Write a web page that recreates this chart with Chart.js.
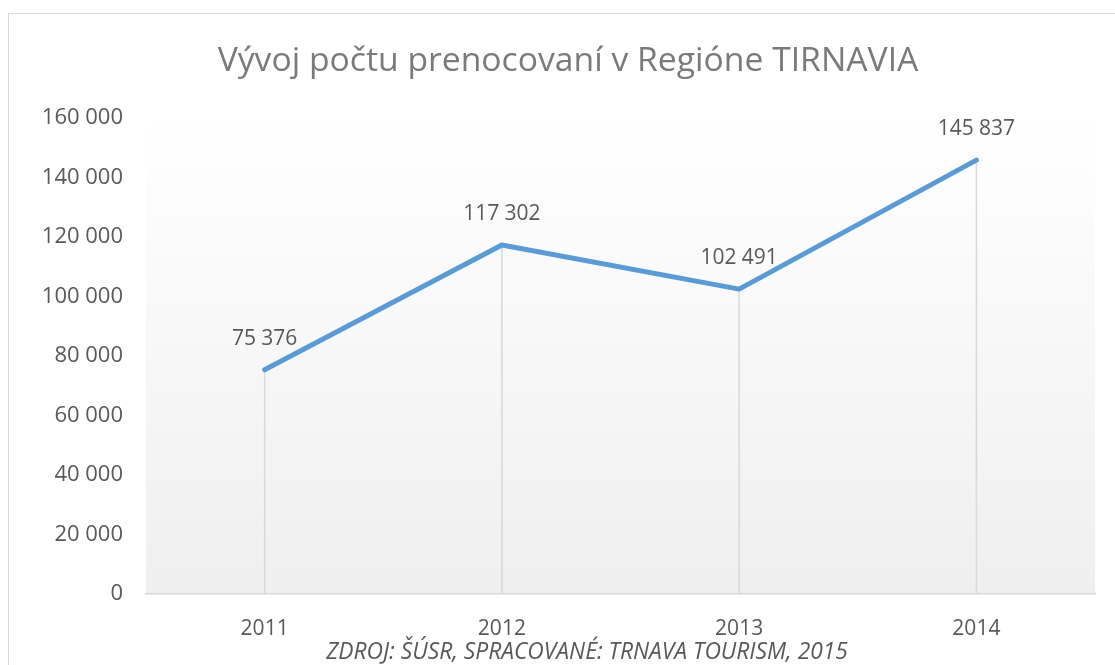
<!DOCTYPE html>
<html>
<head>
<meta charset="utf-8">
<script src="https://cdn.jsdelivr.net/npm/chart.js@4/dist/chart.umd.min.js"></script>
<style>
body { margin: 0; background: #fff; }
canvas { display: block; }
</style>
</head>
<body>
<canvas id="chart" width="1115" height="665"></canvas>
<script>
var years = ['2011', '2012', '2013', '2014'];
var nights = [75376, 117302, 102491, 145837];
var yTicks = [0, 20000, 40000, 60000, 80000, 100000, 120000, 140000, 160000];

var chartTitle = 'Vývoj počtu prenocovaní v Regióne TIRNAVIA';
var sourceNote = 'ZDROJ: ŠÚSR, SPRACOVANÉ: TRNAVA TOURISM, 2015';

function fmt(v) {
    return String(v).replace(/\B(?=(\d{3})+(?!\d))/g, ' ');
}

// pozadie grafu, okraj, nadpis a zdroj
var decorPlugin = {
    id: 'decor',
    beforeDraw: function(chart) {
        var ctx = chart.ctx;
        var a = chart.chartArea;
        ctx.save();
        ctx.fillStyle = '#ffffff';
        ctx.fillRect(0, 0, chart.width, chart.height);
        var g = ctx.createLinearGradient(0, a.top, 0, a.bottom);
        g.addColorStop(0, '#ffffff');
        g.addColorStop(1, '#efefef');
        ctx.fillStyle = g;
        ctx.fillRect(a.left, a.top, a.right - a.left, a.bottom - a.top);
        ctx.strokeStyle = '#d9d9d9';
        ctx.lineWidth = 1;
        ctx.strokeRect(8.5, 13.5, 1300, 900);
        ctx.restore();
    },
    beforeDatasetsDraw: function(chart) {
        // zvislé čiary od bodov k osi
        var ctx = chart.ctx;
        var meta = chart.getDatasetMeta(0);
        var bottom = chart.chartArea.bottom;
        ctx.save();
        ctx.strokeStyle = '#d9d9d9';
        ctx.lineWidth = 1.5;
        meta.data.forEach(function(pt) {
            ctx.beginPath();
            ctx.moveTo(pt.x, pt.y);
            ctx.lineTo(pt.x, bottom);
            ctx.stroke();
        });
        ctx.restore();
    },
    afterDraw: function(chart) {
        var ctx = chart.ctx;
        var meta = chart.getDatasetMeta(0);
        ctx.save();
        ctx.textAlign = 'center';
        ctx.textBaseline = 'middle';
        ctx.fillStyle = '#595959';
        ctx.font = '21px "Open Sans"';
        meta.data.forEach(function(pt, i) {
            ctx.fillText(fmt(nights[i]), pt.x, pt.y - 31);
        });
        ctx.fillStyle = '#7a7a7a';
        ctx.font = '33.7px "Open Sans"';
        ctx.fillText(chartTitle, 568, 61);
        ctx.fillStyle = '#595959';
        ctx.font = 'italic 22.8px "Open Sans"';
        ctx.fillText(sourceNote, 587, 653);
        ctx.restore();
    }
};

new Chart(document.getElementById('chart').getContext('2d'), {
    type: 'line',
    data: {
        labels: years,
        datasets: [{
            data: nights,
            borderColor: '#5b9bd5',
            borderWidth: 5,
            borderCapStyle: 'round',
            borderJoinStyle: 'round',
            pointRadius: 0,
            tension: 0,
            fill: false
        }]
    },
    options: {
        responsive: false,
        animation: false,
        layout: { padding: { top: 118, right: 20, left: 0, bottom: 0 } },
        plugins: {
            legend: { display: false },
            title: { display: false },
            tooltip: { enabled: false }
        },
        scales: {
            x: {
                offset: true,
                grid: { display: false, drawTicks: false, tickLength: 0 },
                border: { display: true, color: '#d9d9d9', width: 1.5 },
                ticks: { color: '#595959', font: { family: 'Open Sans', size: 21 }, padding: 22, maxRotation: 0 },
                afterFit: function(s) { s.height = 71; }
            },
            y: {
                min: 0,
                max: 160000,
                afterBuildTicks: function(s) {
                    s.ticks = yTicks.map(function(v) { return { value: v }; });
                },
                grid: { display: false, drawTicks: false, tickLength: 0 },
                border: { display: false },
                ticks: {
                    color: '#595959',
                    font: { family: 'Open Sans', size: 22 },
                    padding: 23,
                    callback: function(v) { return fmt(v); }
                },
                afterFit: function(s) { s.width = 146; }
            }
        }
    },
    plugins: [decorPlugin]
});
</script>
</body>
</html>
